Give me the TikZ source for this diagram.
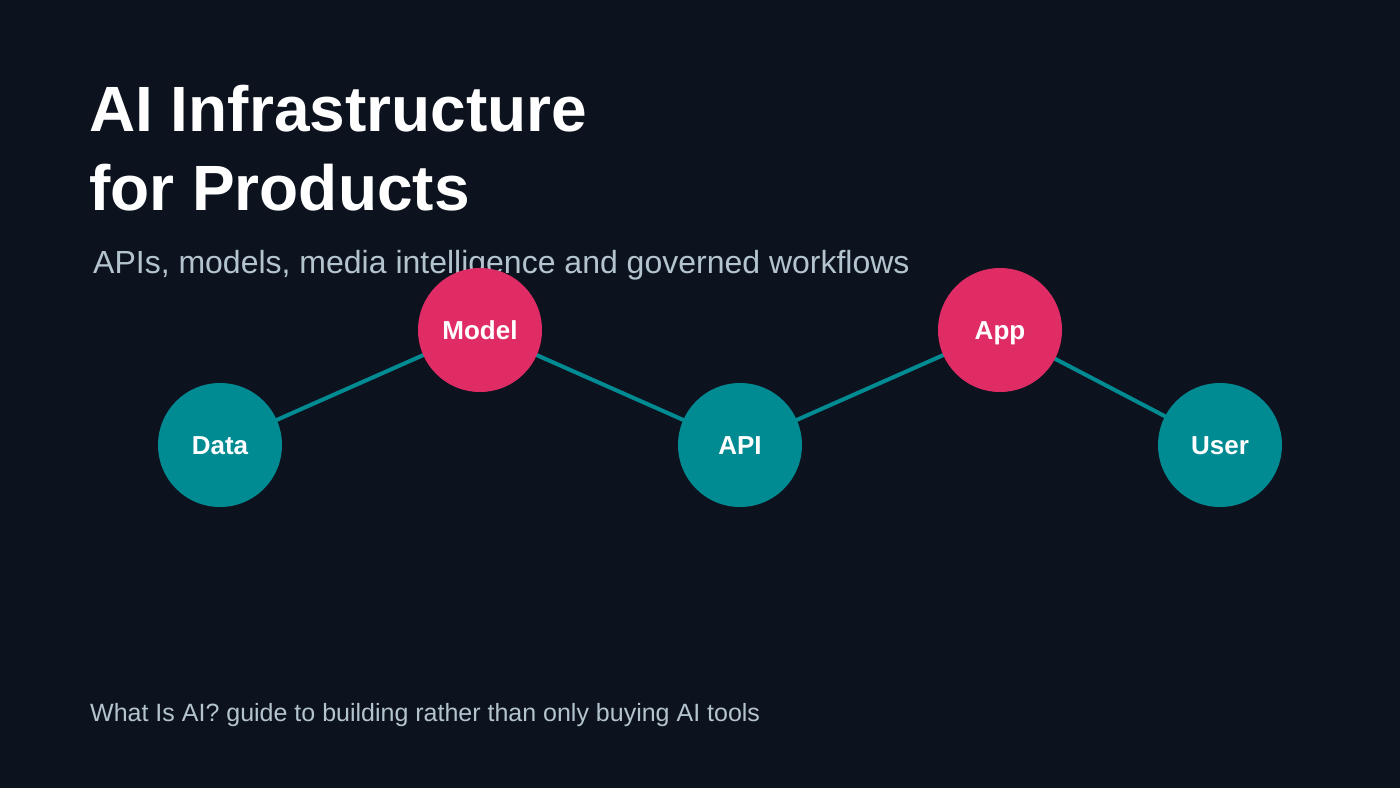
\documentclass[tikz,border=0pt]{standalone}
\usepackage{fontspec}
\setmainfont{Liberation Sans}
\definecolor{bg}{HTML}{0C131E}
\definecolor{teal}{HTML}{008B93}
\definecolor{pink}{HTML}{E02C65}
\definecolor{subgray}{HTML}{B4C4CE}
\begin{document}
\begin{tikzpicture}[x=1pt,y=-1pt,
  hub/.style={circle,minimum size=124pt,inner sep=0pt,text=white,text height=18.6pt,text depth=0pt,font=\fontsize{26}{30}\selectfont\bfseries},
  tealnode/.style={hub,fill=teal},
  pinknode/.style={hub,fill=pink},
  link/.style={teal,line width=4pt}]
\fill[bg] (0,0) rectangle (1400,788);
\useasboundingbox (0,0) rectangle (1400,788);
\node[anchor=base west,inner sep=0pt,text=white,font=\fontsize{64}{77}\selectfont\bfseries] (t1) at (89,131) {AI Infrastructure};
\node[anchor=base west,inner sep=0pt,text=white,font=\fontsize{64}{77}\selectfont\bfseries] (t2) at (89,210) {for Products};
\node[anchor=base west,inner sep=0pt,text=subgray,font=\fontsize{32}{38}\selectfont] (sub) at (93,273) {APIs, models, media intelligence and governed workflows};
\node[anchor=base west,inner sep=0pt,text=subgray,font=\fontsize{25}{30}\selectfont] (foot) at (90,721) {What Is AI? guide to building rather than only buying AI tools};
\coordinate (cData) at (220,445);
\coordinate (cModel) at (480,330);
\coordinate (cAPI) at (740,445);
\coordinate (cApp) at (1000,330);
\coordinate (cUser) at (1220,445);
\draw[link] (cData) -- (cModel) -- (cAPI) -- (cApp) -- (cUser);
\node[tealnode] (data) at (cData) {Data};
\node[pinknode] (model) at (cModel) {Model};
\node[tealnode] (api) at (cAPI) {API};
\node[pinknode] (app) at (cApp) {App};
\node[tealnode] (user) at (cUser) {User};
\end{tikzpicture}
\end{document}
